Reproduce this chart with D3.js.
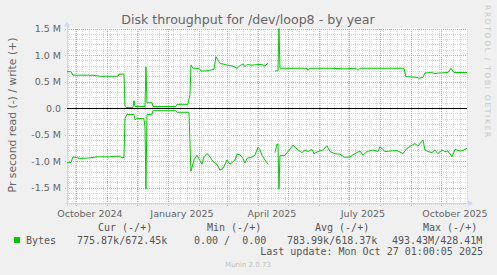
<!DOCTYPE html>
<html>
<head>
<meta charset="utf-8">
<script src="https://cdn.jsdelivr.net/npm/d3@7"></script>
<style>
  body { margin: 0; background: #f0f0f0; }
  svg { display: block; font-family: "DejaVu Sans", sans-serif; }
  .mono { font-family: "DejaVu Sans Mono", monospace; white-space: pre; }
</style>
</head>
<body>
<svg id="chart" width="497" height="275"></svg>
<script>
// ---------------------- DATA ----------------------

// bytes per second, written (plotted up)
const writeSeries = [
  ["2024-09-22", 685000], ["2024-09-26", 685000], ["2024-09-28", 620000], ["2024-10-14", 620000],
  ["2024-10-15", 610000], ["2024-10-17", 620000], ["2024-10-25", 600000], ["2024-11-12", 600000],
  ["2024-11-13", 640000], ["2024-11-18", 640000], ["2024-11-19", 40000], ["2024-11-20", 10000],
  ["2024-11-27", 10000], ["2024-11-28", 140000], ["2024-11-29", 30000], ["2024-12-09", 30000],
  ["2024-12-10", 780000], ["2024-12-11", 100000], ["2024-12-16", 100000], ["2024-12-17", 30000],
  ["2025-01-09", 30000], ["2025-01-10", 70000], ["2025-01-21", 70000], ["2025-01-23", 250000],
  ["2025-01-24", 810000], ["2025-01-26", 750000], ["2025-02-01", 750000], ["2025-02-03", 700000],
  ["2025-02-09", 700000], ["2025-02-11", 710000], ["2025-02-16", 730000], ["2025-02-18", 970000],
  ["2025-02-22", 840000], ["2025-02-25", 830000], ["2025-03-01", 810000], ["2025-03-07", 790000],
  ["2025-03-11", 750000], ["2025-03-14", 800000], ["2025-03-17", 830000], ["2025-03-19", 780000],
  ["2025-03-21", 820000], ["2025-03-26", 810000], ["2025-04-01", 820000], ["2025-04-05", 820000],
  ["2025-04-08", 790000], ["2025-04-11", 850000], ["2025-04-12", null], ["2025-04-18", 700000],
  ["2025-04-21", 700000], ["2025-04-22", 1500000], ["2025-04-23", 750000], ["2025-05-13", 750000],
  ["2025-05-20", 750000], ["2025-05-21", 710000], ["2025-05-23", 750000], ["2025-06-12", 750000],
  ["2025-06-27", 740000], ["2025-07-08", 750000], ["2025-07-10", 710000], ["2025-07-12", 750000],
  ["2025-08-25", 750000], ["2025-08-27", 590000], ["2025-09-07", 580000], ["2025-09-09", 560000],
  ["2025-09-13", 580000], ["2025-09-15", 660000], ["2025-09-21", 670000], ["2025-09-25", 650000],
  ["2025-09-29", 660000], ["2025-10-08", 670000], ["2025-10-11", 750000], ["2025-10-14", 670000],
  ["2025-10-26", 670000], ["2025-10-27", 670000]
];

// bytes per second, read (plotted down)
const readSeries = [
  ["2024-09-22", 1030000], ["2024-09-26", 1030000], ["2024-09-28", 920000], ["2024-10-05", 950000],
  ["2024-10-15", 940000], ["2024-10-22", 920000], ["2024-11-04", 920000], ["2024-11-07", 910000],
  ["2024-11-14", 910000], ["2024-11-16", 940000], ["2024-11-18", 930000], ["2024-11-19", 200000],
  ["2024-11-21", 120000], ["2024-11-28", 120000], ["2024-11-29", 220000], ["2024-12-01", 200000],
  ["2024-12-08", 200000], ["2024-12-09", 360000], ["2024-12-10", 1530000], ["2024-12-11", 120000],
  ["2024-12-16", 120000], ["2024-12-17", 50000], ["2025-01-09", 50000], ["2025-01-10", 80000],
  ["2025-01-22", 80000], ["2025-01-24", 1190000], ["2025-01-27", 980000], ["2025-01-30", 890000],
  ["2025-02-02", 990000], ["2025-02-04", 1060000], ["2025-02-06", 920000], ["2025-02-09", 860000],
  ["2025-02-11", 890000], ["2025-02-15", 1010000], ["2025-02-19", 1060000], ["2025-02-22", 1170000],
  ["2025-02-25", 1140000], ["2025-03-01", 980000], ["2025-03-04", 1060000], ["2025-03-09", 980000],
  ["2025-03-11", 870000], ["2025-03-14", 880000], ["2025-03-17", 950000], ["2025-03-19", 1040000],
  ["2025-03-21", 950000], ["2025-03-26", 920000], ["2025-03-29", 890000], ["2025-04-01", 740000],
  ["2025-04-03", 780000], ["2025-04-05", 890000], ["2025-04-08", 980000], ["2025-04-11", 1060000],
  ["2025-04-12", null], ["2025-04-18", 840000], ["2025-04-20", 680000], ["2025-04-21", 680000],
  ["2025-04-22", 1530000], ["2025-04-23", 900000], ["2025-04-28", 890000], ["2025-05-01", 820000],
  ["2025-05-06", 700000], ["2025-05-11", 790000], ["2025-05-15", 840000], ["2025-05-18", 790000],
  ["2025-05-21", 820000], ["2025-05-25", 780000], ["2025-05-27", 860000], ["2025-05-31", 820000],
  ["2025-06-05", 790000], ["2025-06-09", 710000], ["2025-06-12", 820000], ["2025-06-17", 860000],
  ["2025-06-22", 870000], ["2025-06-27", 930000], ["2025-07-02", 920000], ["2025-07-07", 860000],
  ["2025-07-12", 810000], ["2025-07-15", 890000], ["2025-07-19", 820000], ["2025-07-25", 790000],
  ["2025-07-30", 820000], ["2025-08-01", 730000], ["2025-08-06", 820000], ["2025-08-11", 810000],
  ["2025-08-18", 800000], ["2025-08-24", 860000], ["2025-08-28", 760000], ["2025-09-02", 700000],
  ["2025-09-05", 670000], ["2025-09-08", 720000], ["2025-09-13", 600000], ["2025-09-15", 790000],
  ["2025-09-18", 820000], ["2025-09-22", 840000], ["2025-09-25", 790000], ["2025-09-28", 860000],
  ["2025-10-02", 790000], ["2025-10-05", 820000], ["2025-10-08", 810000], ["2025-10-12", 920000],
  ["2025-10-15", 780000], ["2025-10-20", 810000], ["2025-10-23", 800000], ["2025-10-27", 760000]
];

const xLabelDates = ["2024-10-15", "2025-01-15", "2025-04-15", "2025-07-15", "2025-10-15"];
const xLabels = ["October 2024", "January 2025", "April 2025", "July 2025", "October 2025"];
const yTicks = [-1500000, -1000000, -500000, 0, 500000, 1000000, 1500000];

const legendHeaders = ["Cur (-/+)", "Min (-/+)", "Avg (-/+)", "Max (-/+)"];
const legendValues = ["775.87k/672.45k", "0.00 /  0.00", "783.99k/618.37k", "493.43M/428.41M"];

// ---------------------- SETUP ----------------------

const parseDay = d3.timeParse("%Y-%m-%d");
const startTime = new Date(2024, 8, 22, 1, 0);
const endTime = new Date(2025, 9, 27, 1, 0);

const plot = { left: 67, right: 467, top: 28.5, bottom: 203.5 };

const x = d3.scaleTime().domain([startTime, endTime]).range([plot.left, plot.right]);
const y = d3.scaleLinear().domain([-1800000, 1500000]).range([plot.bottom, plot.top]);

const svg = d3.select("#chart");
const fontColor = "#666";
const axisColor = "#cfd6f8";
const green = "#00cc00";

// canvas
svg.append("rect")
  .attr("x", plot.left).attr("y", plot.top)
  .attr("width", plot.right - plot.left).attr("height", plot.bottom - plot.top)
  .attr("fill", "#fff");

// ---------------------- GRID ----------------------

const grid = svg.append("g").attr("shape-rendering", "crispEdges");
const px = v => Math.round(v) + 0.5;

// minor horizontal lines every 100k
const minorY = d3.range(-18, 16).filter(k => k % 5 !== 0).map(k => k * 100000);
grid.selectAll(".hminor").data(minorY).enter().append("line")
  .attr("x1", plot.left).attr("x2", plot.right)
  .attr("y1", d => px(y(d))).attr("y2", d => px(y(d)))
  .attr("stroke", "#d8d8d8").attr("stroke-dasharray", "1,1");

// minor vertical lines each week
const weeks = d3.timeMonday.range(startTime, endTime);
grid.selectAll(".vminor").data(weeks).enter().append("line")
  .attr("x1", d => px(x(d))).attr("x2", d => px(x(d)))
  .attr("y1", plot.top).attr("y2", plot.bottom)
  .attr("stroke", "#d8d8d8").attr("stroke-dasharray", "1,1");

// major lines
grid.selectAll(".hmajor").data(yTicks).enter().append("line")
  .attr("x1", plot.left - 2).attr("x2", plot.right)
  .attr("y1", d => px(y(d))).attr("y2", d => px(y(d)))
  .attr("stroke", "#f0a0a0").attr("stroke-dasharray", "1,1");

const months = d3.timeMonth.range(startTime, endTime);
grid.selectAll(".vmajor").data(months).enter().append("line")
  .attr("x1", d => px(x(d))).attr("x2", d => px(x(d)))
  .attr("y1", plot.top).attr("y2", plot.bottom + 3)
  .attr("stroke", "#f0a0a0").attr("stroke-dasharray", "1,1");

// ---------------------- AXES ----------------------

const yFormat = v => v === 0 ? "0.0" : (v < 0 ? "-" : "") + (Math.abs(v) / 1e6).toFixed(1) + " M";

const yAxis = svg.append("g")
  .attr("transform", `translate(${plot.left - 6},0)`)
  .call(d3.axisLeft(y).tickValues(yTicks).tickSize(0).tickPadding(0).tickFormat(yFormat));
yAxis.select(".domain").remove();
yAxis.selectAll("text")
  .attr("fill", fontColor).attr("font-size", 9.5)
  .attr("font-family", "DejaVu Sans").attr("dy", "0.35em");

svg.append("g").selectAll("text").data(xLabelDates).enter().append("text")
  .attr("x", d => x(parseDay(d)))
  .attr("y", 216.5)
  .attr("text-anchor", "middle")
  .attr("fill", fontColor).attr("font-size", 9.5)
  .text((d, i) => xLabels[i]);

// axis lines with arrows
const axes = svg.append("g").attr("shape-rendering", "crispEdges");
axes.append("line")
  .attr("x1", plot.left - 2).attr("x2", plot.right + 2)
  .attr("y1", px(plot.bottom - 0.5)).attr("y2", px(plot.bottom - 0.5))
  .attr("stroke", axisColor);
axes.append("line")
  .attr("x1", px(plot.left - 0.5)).attr("x2", px(plot.left - 0.5))
  .attr("y1", plot.bottom + 2).attr("y2", plot.top - 3)
  .attr("stroke", axisColor);
svg.append("path")
  .attr("d", `M${plot.right + 1},${plot.bottom - 3} L${plot.right + 6},${plot.bottom} L${plot.right + 1},${plot.bottom + 3} Z`)
  .attr("fill", axisColor);
svg.append("path")
  .attr("d", `M${plot.left - 3},${plot.top - 2} L${plot.left},${plot.top - 7} L${plot.left + 3},${plot.top - 2} Z`)
  .attr("fill", axisColor);

// zero line
svg.append("line")
  .attr("x1", plot.left).attr("x2", plot.right)
  .attr("y1", px(y(0) - 0.5)).attr("y2", px(y(0) - 0.5))
  .attr("stroke", "#000").attr("shape-rendering", "crispEdges");

// ---------------------- SERIES ----------------------

const writeLine = d3.line()
  .defined(d => d[1] !== null)
  .x(d => x(parseDay(d[0])))
  .y(d => y(d[1]));

const readLine = d3.line()
  .defined(d => d[1] !== null)
  .x(d => x(parseDay(d[0])))
  .y(d => y(-d[1]));

svg.append("path").datum(writeSeries)
  .attr("d", writeLine).attr("fill", "none")
  .attr("stroke", green).attr("stroke-width", 1);

svg.append("path").datum(readSeries)
  .attr("d", readLine).attr("fill", "none")
  .attr("stroke", green).attr("stroke-width", 1);

// ---------------------- TEXTS ----------------------

svg.append("text")
  .attr("x", 248).attr("y", 23.5)
  .attr("text-anchor", "middle")
  .attr("fill", fontColor).attr("font-size", 12.6)
  .text("Disk throughput for /dev/loop8 - by year");

svg.append("text")
  .attr("transform", "translate(15.5,115) rotate(-90)")
  .attr("text-anchor", "middle")
  .attr("fill", fontColor).attr("font-size", 10.8)
  .text("Pr second read (-) / write (+)");

svg.append("text")
  .attr("transform", "translate(484.5,5) rotate(90)")
  .attr("fill", "#c8c8c8").attr("font-size", 7.5)
  .attr("letter-spacing", 1.7)
  .text("RRDTOOL / TOBI OETIKER");

// legend
const headerX = [98, 207, 315, 423];
const valueX = [77, 194, 287, 392];

svg.append("rect")
  .attr("x", 14).attr("y", 237).attr("width", 6).attr("height", 6)
  .attr("fill", green);

svg.append("text").attr("class", "mono")
  .attr("x", 26).attr("y", 243.5)
  .attr("fill", "#555").attr("font-size", 10)
  .text("Bytes");

svg.selectAll(".lhead").data(legendHeaders).enter().append("text")
  .attr("class", "mono")
  .attr("x", (d, i) => headerX[i]).attr("y", 230.5)
  .attr("fill", "#555").attr("font-size", 10)
  .text(d => d);

svg.selectAll(".lval").data(legendValues).enter().append("text")
  .attr("class", "mono")
  .attr("x", (d, i) => valueX[i]).attr("y", 243.5)
  .attr("fill", "#555").attr("font-size", 10)
  .text(d => d);

svg.append("text").attr("class", "mono")
  .attr("x", 483).attr("y", 255)
  .attr("text-anchor", "end")
  .attr("fill", "#555").attr("font-size", 10)
  .text("Last update: Mon Oct 27 01:00:05 2025");

svg.append("text")
  .attr("x", 248).attr("y", 267)
  .attr("text-anchor", "middle")
  .attr("fill", "#c0c0c0").attr("font-size", 7)
  .text("Munin 2.0.73");
</script>
</body>
</html>
